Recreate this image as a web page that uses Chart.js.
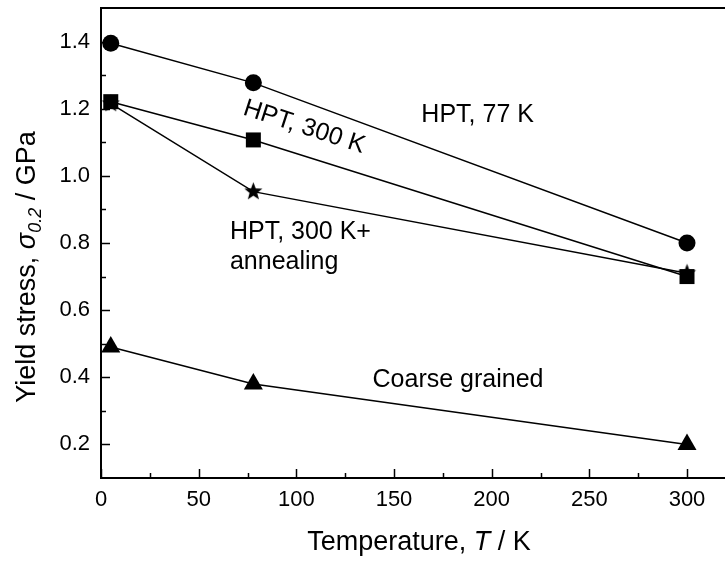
<!DOCTYPE html>
<html>
<head>
<meta charset="utf-8">
<script src="https://cdn.jsdelivr.net/npm/chart.js@4.4.1/dist/chart.umd.min.js"></script>
<style>
    html, body { margin: 0; padding: 0; background: #fff; }
    canvas { display: block; }
</style>
</head>
<body>
<canvas id="yieldChart" width="725" height="562"></canvas>
<script>
// temperature of the test, K
const temperatures = [5, 78, 300];

// yield stress sigma_0.2, GPa
const hpt77K = [1.395, 1.277, 0.80];
const hpt300K = [1.221, 1.107, 0.70];
const hpt300KAnnealed = [1.215, 0.953, 0.71];
const coarseGrained = [0.49, 0.38, 0.20];

// axis ticks (minor ones get no label)
const xTicks = [0, 25, 50, 75, 100, 125, 150, 175, 200, 225, 250, 275, 300];
const xLabels = [0, 50, 100, 150, 200, 250, 300];
const yTicks = [0.2, 0.3, 0.4, 0.5, 0.6, 0.7, 0.8, 0.9, 1.0, 1.1, 1.2, 1.3, 1.4];
const yLabels = [0.2, 0.4, 0.6, 0.8, 1.0, 1.2, 1.4];

// text written inside the plot, placed in data units
const notes = [
    { text: "HPT, 77 K", x: 164, y: 1.18, angle: 0 },
    { text: "HPT, 300 K", x: 104, y: 1.145, angle: 18, center: true },
    { text: "HPT, 300 K+", x: 66, y: 0.833, angle: 0 },
    { text: "annealing", x: 66, y: 0.743, angle: 0 },
    { text: "Coarse grained", x: 139, y: 0.392, angle: 0 }
];

const FONT = '"Liberation Sans", Arial, sans-serif';

function makeStar(outer, inner) {
    const c = document.createElement("canvas");
    const size = Math.ceil(outer * 2) + 2;
    c.width = size;
    c.height = size;
    const g = c.getContext("2d");
    g.fillStyle = "#000";
    g.beginPath();
    for (let i = 0; i < 10; i++) {
        const r = i % 2 === 0 ? outer : inner;
        const a = -Math.PI / 2 + i * Math.PI / 5;
        const px = size / 2 + r * Math.cos(a);
        const py = size / 2 + r * Math.sin(a);
        if (i === 0) g.moveTo(px, py); else g.lineTo(px, py);
    }
    g.closePath();
    g.fill();
    return c;
}

function series(values, style, radius) {
    return {
        data: temperatures.map((t, i) => ({ x: t, y: values[i] })),
        showLine: true,
        borderColor: "#000",
        borderWidth: 1.5,
        backgroundColor: "#000",
        pointBackgroundColor: "#000",
        pointBorderColor: "#000",
        pointBorderWidth: 0,
        pointStyle: style,
        pointRadius: radius,
        tension: 0,
        clip: false
    };
}

function isLabelled(list, v) {
    return list.some(l => Math.abs(l - v) < 1e-6);
}

// scale label paddings would push the plot box around, drop them
function noPadding(scale) {
    scale.paddingTop = 0;
    scale.paddingBottom = 0;
    scale.paddingLeft = 0;
    scale.paddingRight = 0;
}

// draws a line of text made of parts with own fonts, centred on x
function drawRich(ctx, parts, x, y) {
    let total = 0;
    parts.forEach(p => {
        ctx.font = p.font;
        p.w = ctx.measureText(p.text).width;
        total += p.w;
    });
    let cx = x - total / 2;
    ctx.textAlign = "left";
    ctx.textBaseline = "alphabetic";
    parts.forEach(p => {
        ctx.font = p.font;
        ctx.fillText(p.text, cx, y + (p.dy || 0));
        cx += p.w;
    });
}

const framePlugin = {
    id: "frame",
    afterDatasetsDraw(chart) {
        const ctx = chart.ctx;
        const xs = chart.scales.x;
        const ys = chart.scales.y;
        ctx.save();
        ctx.fillStyle = "#000";
        ctx.font = "25px " + FONT;
        notes.forEach(n => {
            const px = xs.getPixelForValue(n.x);
            const py = ys.getPixelForValue(n.y);
            ctx.save();
            ctx.translate(px, py);
            ctx.rotate(n.angle * Math.PI / 180);
            ctx.textAlign = n.center ? "center" : "left";
            ctx.textBaseline = "middle";
            ctx.fillText(n.text, 0, 0);
            ctx.restore();
        });
        ctx.restore();
    },
    afterDraw(chart) {
        const ctx = chart.ctx;
        const area = chart.chartArea;
        const xs = chart.scales.x;
        const ys = chart.scales.y;
        ctx.save();
        ctx.strokeStyle = "#000";
        ctx.lineWidth = 2;

        // top frame line
        ctx.beginPath();
        ctx.moveTo(area.left, area.top);
        ctx.lineTo(area.right, area.top);
        ctx.stroke();

        // inward ticks
        ctx.lineWidth = 1.5;
        xTicks.forEach(v => {
            const px = Math.round(xs.getPixelForValue(v)) + 0.5;
            const len = isLabelled(xLabels, v) ? 9 : 5;
            ctx.beginPath();
            ctx.moveTo(px, area.bottom);
            ctx.lineTo(px, area.bottom - len);
            ctx.stroke();
        });
        yTicks.forEach(v => {
            const py = Math.round(ys.getPixelForValue(v)) + 0.5;
            const len = isLabelled(yLabels, v) ? 9 : 5;
            ctx.beginPath();
            ctx.moveTo(area.left, py);
            ctx.lineTo(area.left + len, py);
            ctx.stroke();
        });

        // axis titles
        ctx.fillStyle = "#000";
        drawRich(ctx, [
            { text: "Temperature, ", font: "27px " + FONT },
            { text: "T", font: "italic 27px " + FONT },
            { text: " / K", font: "27px " + FONT }
        ], 419, 550);

        ctx.translate(35, 267);
        ctx.rotate(-Math.PI / 2);
        drawRich(ctx, [
            { text: "Yield stress, ", font: "27px " + FONT },
            { text: "\u03C3", font: "italic 27px " + FONT },
            { text: "0.2", font: "italic 18px " + FONT, dy: 6 },
            { text: " / GPa", font: "27px " + FONT }
        ], 0, 0);
        ctx.restore();
    }
};

const ctx = document.getElementById("yieldChart").getContext("2d");
const yieldChart = new Chart(ctx, {
    type: "scatter",
    data: {
        datasets: [
            series(hpt77K, "circle", 8.5),
            series(hpt300K, "rect", 10.6),
            series(hpt300KAnnealed, makeStar(9.5, 4), 9),
            series(coarseGrained, "triangle", 11)
        ]
    },
    options: {
        responsive: false,
        animation: false,
        layout: { autoPadding: false, padding: { top: 8, right: 0, left: 0, bottom: 0 } },
        plugins: {
            legend: { display: false },
            tooltip: { enabled: false }
        },
        scales: {
            x: {
                type: "linear",
                min: 0,
                max: 319.45,
                grid: { display: false, drawTicks: false },
                border: { display: true, color: "#000", width: 2 },
                afterBuildTicks: scale => { scale.ticks = xTicks.map(v => ({ value: v })); },
                afterFit: scale => {
                    scale.height = 84;
                    noPadding(scale);
                },
                ticks: {
                    color: "#000",
                    font: { family: FONT, size: 22 },
                    padding: 9,
                    maxRotation: 0,
                    autoSkip: false,
                    callback: v => isLabelled(xLabels, v) ? String(v) : ""
                }
            },
            y: {
                type: "linear",
                min: 0.1,
                max: 1.5,
                grid: { display: false, drawTicks: false },
                border: { display: true, color: "#000", width: 2 },
                afterBuildTicks: scale => { scale.ticks = yTicks.map(v => ({ value: v })); },
                afterFit: scale => {
                    scale.width = 101;
                    noPadding(scale);
                },
                ticks: {
                    color: "#000",
                    font: { family: FONT, size: 22 },
                    padding: 11,
                    autoSkip: false,
                    callback: v => isLabelled(yLabels, v) ? v.toFixed(1) : ""
                }
            }
        }
    },
    plugins: [framePlugin]
});
</script>
</body>
</html>
